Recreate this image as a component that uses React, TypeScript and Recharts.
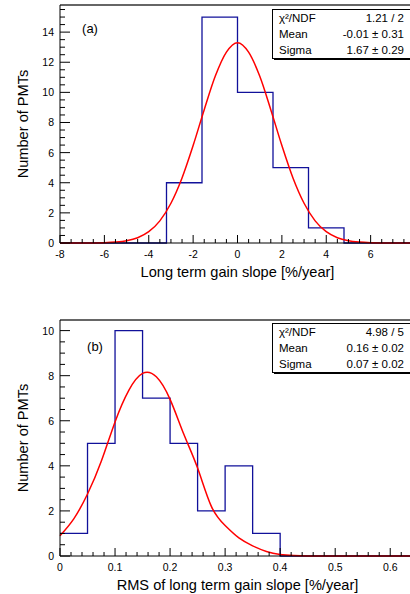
import React from "react";
import { ComposedChart, Line, XAxis, YAxis, ReferenceLine } from "recharts";

// ---------- data: panel (a) ----------
const binEdgesA = [-3.2, -1.6, 0, 1.6, 3.2, 4.8];
const countsA = [4, 15, 10, 5, 1];
const fitXA = [-8, -7.5, -7, -6.5, -6, -5.5, -5, -4.5, -4, -3.5, -3, -2.5, -2, -1.5, -1, -0.5, 0, 0.5, 1, 1.5, 2, 2.5, 3, 3.5, 4, 4.5, 5, 5.5, 6, 6.5, 7, 7.5, 8];
const fitYA = [0, 0, 0, 0.005, 0.02, 0.06, 0.15, 0.35, 0.75, 1.47, 2.64, 4.32, 6.47, 8.85, 11.08, 12.67, 13.3, 12.67, 11.08, 8.85, 6.47, 4.32, 2.64, 1.47, 0.75, 0.35, 0.15, 0.06, 0.02, 0.005, 0, 0, 0];
const xLabelsA = [-8, -6, -4, -2, 0, 2, 4, 6];
const xMajorA = [-8, -6, -4, -2, 0, 2, 4, 6, 8];
const yMajorA = [0, 2, 4, 6, 8, 10, 12, 14];
const statsA = [
  ["χ²/NDF", "1.21 / 2"],
  ["Mean", "-0.01 ± 0.31"],
  ["Sigma", "1.67 ± 0.29"],
];

// ---------- data: panel (b) ----------
const binEdgesB = [0, 0.05, 0.1, 0.15, 0.2, 0.25, 0.3, 0.35, 0.4];
const countsB = [1, 5, 10, 7, 5, 2, 4, 1];
const fitXB = [0, 0.025, 0.05, 0.075, 0.1, 0.125, 0.15, 0.175, 0.2, 0.225, 0.25, 0.275, 0.3, 0.325, 0.35, 0.375, 0.4, 0.425, 0.45, 0.5, 0.55, 0.6, 0.645];
const fitYB = [0.9, 1.65, 2.75, 4.2, 5.95, 7.35, 8.1, 7.95, 6.95, 5.4, 3.9, 2.2, 1.35, 0.8, 0.45, 0.2, 0.07, 0.02, 0, 0, 0, 0, 0];
const xLabelsB = [0, 0.1, 0.2, 0.3, 0.4, 0.5, 0.6];
const xMajorB = [0, 0.1, 0.2, 0.3, 0.4, 0.5, 0.6];
const yMajorB = [0, 2, 4, 6, 8, 10];
const statsB = [
  ["χ²/NDF", "4.98 / 5"],
  ["Mean", "0.16 ± 0.02"],
  ["Sigma", "0.07 ± 0.02"],
];

// ---------- helpers ----------
const makeTicks = (min: number, max: number, step: number) => {
  const out: number[] = [];
  const n = Math.floor((max - min) / step + 1e-6);
  for (let i = 0; i <= n; i++) out.push(Math.round((min + i * step) * 10000) / 10000);
  return out;
};
const isIn = (v: number, list: number[]) => list.some((m) => Math.abs(m - v) < 1e-6);

const histData = (edges: number[], counts: number[], lo: number, hi: number) => {
  const d: { x: number; y: number }[] = [];
  if (edges[0] > lo) d.push({ x: lo, y: 0 });
  edges.forEach((e, i) => d.push({ x: e, y: i < counts.length ? counts[i] : 0 }));
  if (edges[edges.length - 1] < hi) d.push({ x: hi, y: 0 });
  return d;
};
const fitData = (xs: number[], ys: number[]) => xs.map((x, i) => ({ x, y: ys[i] }));

const FONT = "'Liberation Sans', Arial, Helvetica, sans-serif";
const HIST_COLOR = "#11119a";
const FIT_COLOR = "#ff0000";

const makeXTick = (majors: number[], labels: number[]) => (props: any) => {
  const { x, y, payload } = props;
  const v = payload.value as number;
  const major = isIn(v, majors);
  return (
    <g>
      <line x1={x} x2={x} y1={y} y2={y - (major ? 8 : 4)} stroke="#000" strokeWidth={1} />
      {isIn(v, labels) && (
        <text x={x} y={y + 11} textAnchor="middle" dominantBaseline="central" fontSize={10.5} fontFamily={FONT} fill="#000">
          {String(v)}
        </text>
      )}
    </g>
  );
};
const makeYTick = (majors: number[]) => (props: any) => {
  const { x, y, payload } = props;
  const v = payload.value as number;
  const major = isIn(v, majors);
  return (
    <g>
      <line x1={x} x2={x + (major ? 10 : 5)} y1={y} y2={y} stroke="#000" strokeWidth={1} />
      {major && (
        <text x={x - 6} y={y} textAnchor="end" dominantBaseline="central" fontSize={10.5} fontFamily={FONT} fill="#000">
          {String(v)}
        </text>
      )}
    </g>
  );
};

type PanelProps = {
  top: number;
  height: number;
  marginTop: number;
  xAxisHeight: number;
  xDomain: [number, number];
  yDomain: [number, number];
  xTicks: number[];
  yTicks: number[];
  xMajors: number[];
  xLabels: number[];
  yMajors: number[];
  hist: { x: number; y: number }[];
  fit: { x: number; y: number }[];
  curve: "monotone" | "natural";
};

const Panel = (p: PanelProps) => (
  <div style={{ position: "absolute", left: 0, top: p.top }}>
    <ComposedChart width={425} height={p.height} margin={{ top: p.marginTop, right: 10, bottom: 0, left: 0 }}>
      <XAxis
        dataKey="x"
        type="number"
        domain={p.xDomain}
        ticks={p.xTicks}
        interval={0}
        tickSize={0}
        tickMargin={0}
        tickLine={false}
        height={p.xAxisHeight}
        axisLine={{ stroke: "#000", strokeWidth: 1 }}
        tick={makeXTick(p.xMajors, p.xLabels)}
      />
      <YAxis
        type="number"
        domain={p.yDomain}
        ticks={p.yTicks}
        interval={0}
        tickSize={0}
        tickMargin={0}
        tickLine={false}
        width={60}
        axisLine={{ stroke: "#000", strokeWidth: 1 }}
        tick={makeYTick(p.yMajors)}
      />
      <ReferenceLine y={p.yDomain[1]} stroke="#333" strokeWidth={1.6} ifOverflow="visible" />
      <Line data={p.hist} dataKey="y" type="stepAfter" stroke={HIST_COLOR} strokeWidth={1.3} dot={false} activeDot={false} isAnimationActive={false} />
      <Line data={p.fit} dataKey="y" type={p.curve} stroke={FIT_COLOR} strokeWidth={1.5} dot={false} activeDot={false} isAnimationActive={false} />
    </ComposedChart>
  </div>
);

const StatsBox = ({ top, rows }: { top: number; rows: string[][] }) => (
  <g>
    <rect x={274} y={top + 2} width={150} height={49} fill="#000" />
    <rect x={272.5} y={top + 0.5} width={150} height={49} fill="#fff" stroke="#000" strokeWidth={1} />
    {rows.map((r, i) => (
      <g key={i}>
        <text x={279} y={top + 8.5 + i * 16} dominantBaseline="central" fontSize={11.5} fontFamily={FONT} fill="#000">
          {r[0]}
        </text>
        <text x={404} y={top + 8.5 + i * 16} dominantBaseline="central" textAnchor="end" fontSize={11.5} fontFamily={FONT} fill="#000">
          {r[1]}
        </text>
      </g>
    ))}
  </g>
);

export default function App() {
  return (
    <div style={{ position: "fixed", left: 0, top: 0, width: 410, height: 594, overflow: "hidden", background: "#fff", fontFamily: FONT }}>
      <Panel
        top={0}
        height={297}
        marginTop={5}
        xAxisHeight={54}
        xDomain={[-8, 8]}
        yDomain={[0, 15.8]}
        xTicks={makeTicks(-8, 8, 0.5)}
        yTicks={makeTicks(0, 15.5, 0.5)}
        xMajors={xMajorA}
        xLabels={xLabelsA}
        yMajors={yMajorA}
        hist={histData(binEdgesA, countsA, -8, 8)}
        fit={fitData(fitXA, fitYA)}
        curve="monotone"
      />
      <Panel
        top={297}
        height={297}
        marginTop={23}
        xAxisHeight={38}
        xDomain={[0, 0.645]}
        yDomain={[0, 10.47]}
        xTicks={makeTicks(0, 0.64, 0.02)}
        yTicks={makeTicks(0, 10, 0.5)}
        xMajors={xMajorB}
        xLabels={xLabelsB}
        yMajors={yMajorB}
        hist={histData(binEdgesB, countsB, 0, 0.645)}
        fit={fitData(fitXB, fitYB)}
        curve="natural"
      />
      <svg width={410} height={594} style={{ position: "absolute", left: 0, top: 0, pointerEvents: "none" }}>
        <StatsBox top={9} rows={statsA} />
        <StatsBox top={323} rows={statsB} />
        <text x={90} y={28} textAnchor="middle" dominantBaseline="central" fontSize={13} fontFamily={FONT}>(a)</text>
        <text x={95} y={346} textAnchor="middle" dominantBaseline="central" fontSize={13} fontFamily={FONT}>(b)</text>
        <text x={237.5} y={271.5} textAnchor="middle" dominantBaseline="central" fontSize={14.6} fontFamily={FONT}>Long term gain slope [%/year]</text>
        <text x={237.5} y={585} textAnchor="middle" dominantBaseline="central" fontSize={14.6} fontFamily={FONT}>RMS of long term gain slope [%/year]</text>
        <text x={23} y={124} textAnchor="middle" dominantBaseline="central" fontSize={14.6} fontFamily={FONT} transform="rotate(-90 23 124)">Number of PMTs</text>
        <text x={23} y={438} textAnchor="middle" dominantBaseline="central" fontSize={14.6} fontFamily={FONT} transform="rotate(-90 23 438)">Number of PMTs</text>
      </svg>
    </div>
  );
}
